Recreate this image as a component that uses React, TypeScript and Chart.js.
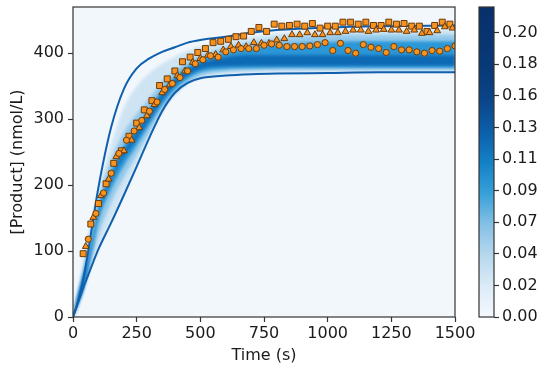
import React, { useEffect, useRef } from 'react';
import { Chart, registerables } from 'chart.js';

Chart.register(...registerables);

// ---------- axes ----------
const xTickValues = [0, 250, 500, 750, 1000, 1250, 1500];
const yTickValues = [0, 100, 200, 300, 400];
const cbTickValues = [0, 0.0222, 0.0444, 0.0667, 0.0889, 0.1111, 0.1333, 0.1556, 0.1778, 0.2];
const X_MAX = 1500;
const Y_MAX = 470;
const CB_MAX = 0.218;

// ---------- measured series ----------
const squareTimes = [40, 70, 100, 130, 160, 190, 220, 250, 280, 310, 340, 370, 400, 430, 460, 490, 520, 550, 580, 610, 640, 670, 700, 730, 760, 790, 820, 850, 880, 910, 940, 970, 1000, 1030, 1060, 1090, 1120, 1150, 1180, 1210, 1240, 1270, 1300, 1330, 1360, 1390, 1420, 1450, 1480];
const squareValues = [96, 141, 172, 202, 233, 252, 274, 294, 314, 328, 351, 361, 373, 387, 394, 401, 407, 416, 418, 421, 425, 426, 433, 439, 433, 444, 441, 442, 444, 441, 445, 438, 441, 441, 447, 447, 444, 447, 442, 442, 447, 444, 445, 441, 441, 433, 442, 447, 444];

const triangleTimes = [50, 80, 110, 140, 170, 200, 230, 260, 290, 320, 350, 380, 410, 440, 470, 500, 530, 560, 590, 620, 650, 680, 710, 740, 770, 800, 830, 860, 890, 920, 950, 980, 1010, 1040, 1070, 1100, 1130, 1160, 1190, 1220, 1250, 1280, 1310, 1340, 1370, 1400, 1430, 1460, 1490];
const triangleValues = [107, 151, 184, 209, 243, 252, 268, 287, 305, 322, 340, 352, 366, 373, 386, 392, 397, 398, 405, 410, 412, 410, 416, 415, 415, 420, 422, 428, 428, 431, 428, 428, 431, 431, 433, 435, 435, 433, 435, 436, 435, 435, 433, 435, 430, 431, 434, 440, 438];

const circleTimes = [60, 90, 120, 150, 180, 210, 240, 270, 300, 330, 360, 390, 420, 450, 480, 510, 540, 570, 600, 630, 660, 690, 720, 750, 780, 810, 840, 870, 900, 930, 960, 990, 1020, 1050, 1080, 1110, 1140, 1170, 1200, 1230, 1260, 1290, 1320, 1350, 1380, 1410, 1440, 1470, 1500];
const circleValues = [118, 157, 188, 218, 248, 268, 282, 298, 312, 326, 345, 354, 363, 373, 384, 390, 396, 394, 402, 405, 407, 407, 407, 412, 414, 412, 410, 410, 410, 411, 413, 416, 404, 415, 404, 400, 413, 409, 407, 401, 410, 405, 405, 402, 400, 404, 403, 407, 411];

// ---------- envelope curves and density bands (read at these times) ----------
const bandTimes = [0, 20, 40, 60, 80, 100, 150, 200, 250, 300, 350, 400, 450, 500, 600, 700, 800, 1000, 1200, 1500];
const upperBound = [0, 24, 57, 100, 150, 197, 288, 346, 377, 392, 402, 409, 416, 420, 425, 431, 435, 439, 441, 442];
const lowerBound = [0, 22, 44, 64, 84, 103, 143, 185, 228, 272, 312, 340, 355, 362, 366, 368, 369, 370, 371, 371];

const lightLow = [0, 18, 40, 62, 84, 104, 146, 188, 230, 274, 313, 341, 356, 363, 368, 370, 371, 372, 372, 372];
const lightHigh = [0, 40, 84, 124, 158, 192, 262, 318, 350, 370, 384, 395, 404, 410, 419, 425, 430, 434, 435, 436];
const midLow = [0, 20, 42, 68, 96, 124, 174, 212, 246, 280, 314, 338, 354, 365, 372, 374, 375, 375, 375, 375];
const midHigh = [0, 36, 72, 110, 145, 180, 238, 280, 308, 332, 356, 374, 387, 397, 409, 417, 422, 427, 428, 428];
const coreLow = [0, 20, 42, 76, 110, 146, 194, 230, 260, 291, 321, 345, 361, 371, 376, 377, 378, 378, 378, 378];
const coreHigh = [0, 34, 64, 96, 132, 168, 222, 260, 289, 316, 344, 364, 380, 390, 401, 408, 413, 417, 418, 418];
const peakLow = [0, 21, 42, 76, 120, 156, 208, 243, 270, 299, 329, 351, 366, 376, 380, 381, 381, 381, 381, 381];
const peakHigh = [0, 32, 60, 86, 124, 160, 213, 251, 280, 309, 339, 360, 375, 385, 394, 397, 397, 397, 397, 397];

// ---------- styles ----------
const FONT_FAMILY = "'DejaVu Sans', sans-serif";
const TEXT = '#1a1a1a';
const SPINE = '#333333';
const PLOT_BG = '#f2f7fc';
const LIGHT = '#cfe4f3';
const MID = '#94c9ea';
const CORE = '#2b97d7';
const PEAK = '#0e69b5';
const CURVE = '#0f5fad';
const MARK_FILL = '#f7931e';
const MARK_EDGE = '#6b3a0a';

const cbStops: [number, string][] = [
  [0, '#f4f9fe'], [0.1, '#dcebf7'], [0.2, '#b6d8ee'], [0.3, '#84c0e4'], [0.4, '#35a0d8'],
  [0.5, '#1380c6'], [0.6, '#0c5ea9'], [0.7, '#0a4589'], [0.8, '#083a78'], [1, '#08306b'],
];

const pts = (xs: number[], ys: number[]) => xs.map((x, i) => ({ x, y: ys[i] }));

function bandPair(lo: number[], hi: number[], color: string, order: number) {
  return [
    {
      type: 'line', isBand: true, data: pts(bandTimes, lo), borderWidth: 0, borderColor: 'transparent',
      pointRadius: 0, fill: false, order, cubicInterpolationMode: 'monotone',
    },
    {
      type: 'line', isBand: true, data: pts(bandTimes, hi), borderWidth: 0, borderColor: 'transparent',
      pointRadius: 0, fill: '-1', backgroundColor: color, order, cubicInterpolationMode: 'monotone',
    },
  ];
}

function markerSet(xs: number[], ys: number[], style: string, radius: number, order: number) {
  return {
    type: 'line', data: pts(xs, ys), showLine: false, pointStyle: style, pointRadius: radius,
    pointBackgroundColor: MARK_FILL, pointBorderColor: MARK_EDGE, pointBorderWidth: 1,
    order, clip: 0,
  };
}

const framePlugin = {
  id: 'frameAndBg',
  beforeDraw(chart: any) {
    const { ctx, chartArea: a } = chart;
    ctx.save();
    ctx.fillStyle = PLOT_BG;
    ctx.fillRect(a.left, a.top, a.right - a.left, a.bottom - a.top);
    ctx.restore();
  },
  afterDraw(chart: any) {
    const { ctx, chartArea: a } = chart;
    ctx.save();
    ctx.strokeStyle = SPINE;
    ctx.lineWidth = 1.2;
    ctx.strokeRect(a.left, a.top, a.right - a.left, a.bottom - a.top);
    ctx.restore();
  },
};

const blurPlugin = {
  id: 'blurBands',
  beforeDatasetsDraw(chart: any) {
    chart.ctx.save();
    chart.ctx.filter = 'blur(1.6px)';
    chart.$blurOn = true;
  },
  beforeDatasetDraw(chart: any, args: any) {
    const ds: any = chart.data.datasets[args.index];
    if (chart.$blurOn && !ds.isBand) {
      chart.ctx.restore();
      chart.$blurOn = false;
    }
  },
  afterDatasetsDraw(chart: any) {
    if (chart.$blurOn) {
      chart.ctx.restore();
      chart.$blurOn = false;
    }
  },
};

const cbFramePlugin = {
  id: 'cbFrame',
  afterDraw(chart: any) {
    const { ctx, chartArea: a } = chart;
    ctx.save();
    ctx.strokeStyle = SPINE;
    ctx.lineWidth = 1.2;
    ctx.strokeRect(a.left, a.top, a.right - a.left, a.bottom - a.top);
    ctx.restore();
  },
};

export default function App() {
  const mainRef = useRef<HTMLCanvasElement>(null);
  const cbRef = useRef<HTMLCanvasElement>(null);

  useEffect(() => {
    const font = { family: FONT_FAMILY, size: 16 };
    const datasets: any[] = [
      ...bandPair(lightLow, lightHigh, LIGHT, 40),
      ...bandPair(midLow, midHigh, MID, 30),
      ...bandPair(coreLow, coreHigh, CORE, 20),
      ...bandPair(peakLow, peakHigh, PEAK, 10),
      {
        type: 'line', data: pts(bandTimes, upperBound), borderColor: CURVE, borderWidth: 2,
        pointRadius: 0, fill: false, order: 5, cubicInterpolationMode: 'monotone',
      },
      {
        type: 'line', data: pts(bandTimes, lowerBound), borderColor: CURVE, borderWidth: 2,
        pointRadius: 0, fill: false, order: 5, cubicInterpolationMode: 'monotone',
      },
      markerSet(squareTimes, squareValues, 'rect', 4.2, 3),
      markerSet(triangleTimes, triangleValues, 'triangle', 3.9, 2),
      markerSet(circleTimes, circleValues, 'circle', 3.1, 1),
    ];

    const main = new Chart(mainRef.current!, {
      type: 'line',
      data: { datasets },
      options: {
        animation: false,
        responsive: false,
        maintainAspectRatio: false,
        events: [],
        layout: { padding: { left: 0, top: 7, right: 95, bottom: 0 } },
        plugins: { legend: { display: false }, tooltip: { enabled: false } },
        scales: {
          x: {
            type: 'linear', min: 0, max: X_MAX,
            afterBuildTicks: (s: any) => { s.ticks = xTickValues.map((v) => ({ value: v })); },
            afterFit: (s: any) => { s.height = 56; s.paddingLeft = 0; s.paddingRight = 0; },
            ticks: { font, color: TEXT, padding: 2, maxRotation: 0, callback: (v: any) => String(v) },
            grid: { drawOnChartArea: false, drawTicks: true, tickLength: 5, tickColor: SPINE, tickWidth: 1.2 },
            border: { display: false },
            title: { display: true, text: 'Time (s)', font, color: TEXT, padding: { top: 0, bottom: 8 } },
          },
          y: {
            type: 'linear', min: 0, max: Y_MAX,
            afterBuildTicks: (s: any) => { s.ticks = yTickValues.map((v) => ({ value: v })); },
            afterFit: (s: any) => { s.width = 73; s.paddingTop = 0; s.paddingBottom = 0; },
            ticks: { font, color: TEXT, padding: 4, callback: (v: any) => String(v) },
            grid: { drawOnChartArea: false, drawTicks: true, tickLength: 5, tickColor: SPINE, tickWidth: 1.2 },
            border: { display: false },
            title: { display: true, text: '[Product] (nmol/L)', font, color: TEXT, padding: { top: 8, bottom: 0 } },
          },
        },
      } as any,
      plugins: [framePlugin, blurPlugin],
    } as any);

    const cb = new Chart(cbRef.current!, {
      type: 'bar',
      data: {
        labels: [''],
        datasets: [{
          data: [CB_MAX],
          borderWidth: 0,
          barPercentage: 1,
          categoryPercentage: 1,
          backgroundColor: (c: any) => {
            const area = c.chart.chartArea;
            if (!area) return '#6baed6';
            const g = c.chart.ctx.createLinearGradient(0, area.bottom, 0, area.top);
            cbStops.forEach(([p, col]) => g.addColorStop(p, col));
            return g;
          },
        }],
      },
      options: {
        animation: false,
        responsive: false,
        maintainAspectRatio: false,
        events: [],
        layout: { padding: { left: 39, top: 7, right: 0, bottom: 56 } },
        plugins: { legend: { display: false }, tooltip: { enabled: false } },
        scales: {
          x: { display: false },
          y: {
            position: 'right', min: 0, max: CB_MAX,
            afterBuildTicks: (s: any) => { s.ticks = cbTickValues.map((v) => ({ value: v })); },
            afterFit: (s: any) => { s.width = 56; s.paddingTop = 0; s.paddingBottom = 0; },
            ticks: { font, color: TEXT, padding: 3, callback: (v: any) => Number(v).toFixed(2) },
            grid: { drawOnChartArea: false, drawTicks: true, tickLength: 5, tickColor: SPINE, tickWidth: 1.2 },
            border: { display: false },
          },
        },
      } as any,
      plugins: [cbFramePlugin],
    } as any);

    return () => { main.destroy(); cb.destroy(); };
  }, []);

  return (
    <div style={{ position: 'absolute', left: 0, top: 0, width: 550, height: 373, background: '#ffffff' }}>
      <canvas ref={mainRef} width={550} height={373}
        style={{ position: 'absolute', left: 0, top: 0, width: 550, height: 373, display: 'block' }} />
      <canvas ref={cbRef} width={110} height={373}
        style={{ position: 'absolute', left: 440, top: 0, width: 110, height: 373, display: 'block' }} />
    </div>
  );
}
